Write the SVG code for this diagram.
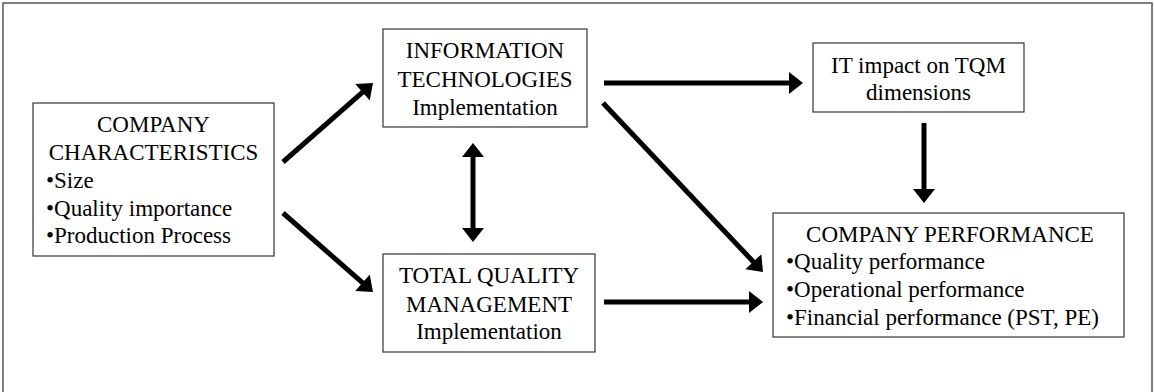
<svg xmlns="http://www.w3.org/2000/svg" width="1154" height="392" viewBox="0 0 1154 392">
<style>
.box{fill:#fff;stroke:#333;stroke-width:1.2}
.t{font-family:"Liberation Serif","Times New Roman",serif;font-size:23px;fill:#000}
.c{text-anchor:middle}
.a{stroke:#000;stroke-width:5;fill:none;marker-end:url(#ah)}
</style>
<defs>
<marker id="ah" markerUnits="userSpaceOnUse" markerWidth="14" markerHeight="22" refX="4" refY="11" orient="auto-start-reverse" overflow="visible">
<path d="M0,0 L14,11 L0,22 Z" fill="#000"/>
</marker>
</defs>
<rect width="1154" height="392" fill="#fff"/>
<path d="M3,392 V3 H1152 V392" fill="none" stroke="#555" stroke-width="1.5"/>
<g id="company">
<rect class="box" x="33" y="103" width="241" height="153"/>
<text class="t c" x="153.5" y="132">COMPANY</text>
<text class="t c" x="153.5" y="160">CHARACTERISTICS</text>
<text class="t" x="46" y="188">•Size</text>
<text class="t" x="46" y="216">•Quality importance</text>
<text class="t" x="46" y="243">•Production Process</text>
</g>
<g id="it">
<rect class="box" x="383" y="29" width="204" height="98"/>
<text class="t c" x="485" y="58">INFORMATION</text>
<text class="t c" x="485" y="87">TECHNOLOGIES</text>
<text class="t c" x="485" y="115">Implementation</text>
</g>
<g id="tqm">
<rect class="box" x="383" y="254" width="212" height="98"/>
<text class="t c" x="489" y="283">TOTAL QUALITY</text>
<text class="t c" x="489" y="312">MANAGEMENT</text>
<text class="t c" x="489" y="339">Implementation</text>
</g>
<g id="itimpact">
<rect class="box" x="813" y="43" width="211" height="69"/>
<text class="t c" x="918.5" y="73">IT impact on TQM</text>
<text class="t c" x="918.5" y="100">dimensions</text>
</g>
<g id="performance">
<rect class="box" x="773" y="213" width="351" height="124"/>
<text class="t c" x="950" y="242">COMPANY PERFORMANCE</text>
<text class="t" x="786" y="269">•Quality performance</text>
<text class="t" x="786" y="297">•Operational performance</text>
<text class="t" x="786" y="325">•Financial performance (PST, PE)</text>
</g>
<g id="connectors">
<line class="a" x1="283" y1="162" x2="365.5" y2="89.6"/>
<line class="a" x1="283" y1="213" x2="365.5" y2="285.4"/>
<line class="a" x1="473" y1="153" x2="473" y2="232" marker-start="url(#ah)"/>
<line class="a" x1="604" y1="83" x2="793" y2="83"/>
<line class="a" x1="603" y1="103" x2="756.1" y2="264.7"/>
<line class="a" x1="604" y1="302" x2="753" y2="302"/>
<line class="a" x1="924" y1="123" x2="924" y2="193"/>
</g>
</svg>
